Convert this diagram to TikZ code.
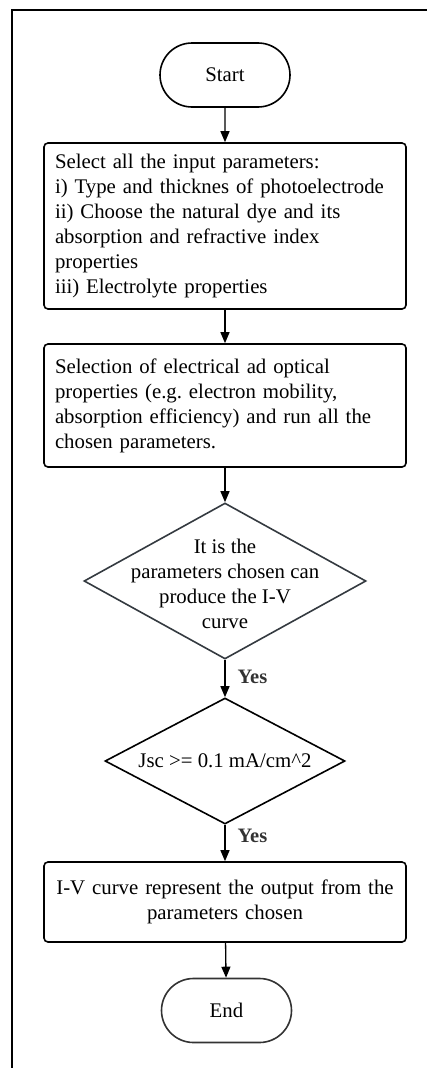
\documentclass[tikz,border=0pt]{standalone}
\usepackage{fontspec}
\setmainfont{Liberation Serif}
\usetikzlibrary{shapes.misc,shapes.geometric,arrows.meta}
\definecolor{edgegray}{HTML}{343A40}
\definecolor{labelgray}{HTML}{333333}
\begin{document}
\frenchspacing
\begin{tikzpicture}[x=1pt,y=-1pt,
  every node/.style={font=\fontsize{20.8}{25}\selectfont},
  terminal/.style={rounded rectangle,draw,line width=1.6pt,minimum width=130pt,minimum height=64pt,inner sep=0pt},
  stepbox/.style={rectangle,draw,line width=1.6pt,rounded corners=4pt,minimum width=362pt,text width=340pt,inner xsep=11pt,inner ysep=0pt},
  decision/.style={diamond,draw,line width=1.6pt,inner sep=0pt},
  flow/.style={line width=1.3pt,-{Triangle[length=11pt,width=9pt]}},
  yeslabel/.style={font=\fontsize{20.5}{22}\selectfont\bfseries,text=labelgray,anchor=west,inner sep=0pt}
]
\useasboundingbox (0,0) rectangle (427,1068);
% outer frame (top and left edges)
\draw[line width=2pt] (12,1069) -- (12,10) -- (428,10);

\node[terminal] (start) at (225,75) {Start};
\node[stepbox,align=left,minimum height=166pt] (inputs) at (225,226)
  {Select all the input parameters:\\
   i) Type and thicknes of photoelectrode\\
   ii) Choose the natural dye and its\\
   absorption and refractive index\\
   properties\\
   iii) Electrolyte properties};
\node[stepbox,align=left,minimum height=123pt] (props) at (225,405.5)
  {Selection of electrical ad optical\\
   properties (e.g. electron mobility,\\
   absorption efficiency) and run all the\\
   chosen parameters.};
\node[decision,draw=edgegray,minimum width=282pt,minimum height=156pt] (check) at (225,581) {};
\node[align=center,inner sep=0pt] (checktext) at (225,584)
  {It is the\\parameters chosen can\\produce the I-V\\curve};
\node[decision,minimum width=240pt,minimum height=126pt] (jsc) at (225,761) {};
\node[inner sep=0pt] (jsctext) at (225,761) {Jsc >= 0.1 mA/cm\string^2};
\node[stepbox,align=center,minimum height=80pt,text width=356pt,inner xsep=3pt] (output) at (225,902)
  {I-V curve represent the output from the\\parameters chosen};
\node[terminal,draw=labelgray] (end) at (226.5,1010.5) {End};

\draw[flow] (start) -- (inputs);
\draw[flow] (inputs) -- (props);
\draw[flow] (props) -- (check);
\draw[flow] (check) -- node[yeslabel,pos=0.45,xshift=12pt] (yes1) {Yes} (jsc);
\draw[flow] (jsc) -- node[yeslabel,pos=0.3,xshift=12pt] (yes2) {Yes} (output);
\draw[flow] (output) -- (end);
\end{tikzpicture}
\end{document}
